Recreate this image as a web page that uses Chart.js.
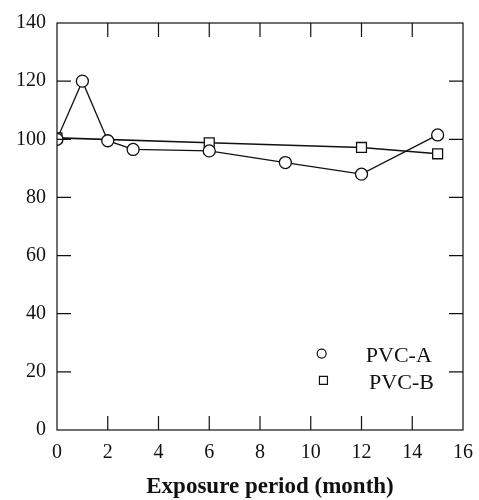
<!DOCTYPE html>
<html>
<head>
<meta charset="utf-8">
<script src="https://cdn.jsdelivr.net/npm/chart.js@4/dist/chart.umd.min.js"></script>
<style>
  html, body { margin: 0; padding: 0; background: #fff; }
  #wrap { width: 479px; height: 500px; }
</style>
</head>
<body>
<div id="wrap"><canvas id="c" width="479" height="500"></canvas></div>
<script>
// data
const months_A = [0, 1, 2, 3, 6, 9, 12, 15];
const pvcA = [100, 120, 99.5, 96.5, 96, 92, 88, 101.5];
const months_B = [0, 6, 12, 15];
const pvcB = [100.5, 98.8, 97.2, 95];
const xTicks = [0, 2, 4, 6, 8, 10, 12, 14, 16];
const yTicks = [0, 20, 40, 60, 80, 100, 120, 140];
const xTitle = "Exposure period (month)";

const FONT = "'Liberation Serif', 'Times New Roman', serif";

// inward tick marks on all four sides + frame, x title and the inset legend
const frameTicks = {
  id: "frameTicks",
  afterDraw(chart) {
    const { ctx, chartArea: a, scales } = chart;
    const len = 14;
    ctx.save();
    ctx.strokeStyle = "#111";
    ctx.lineWidth = 1.2;
    ctx.strokeRect(a.left, a.top, a.right - a.left, a.bottom - a.top);
    ctx.beginPath();
    xTicks.slice(1, -1).forEach((v) => {
      const px = scales.x.getPixelForValue(v);
      ctx.moveTo(px, a.bottom); ctx.lineTo(px, a.bottom - len);
      ctx.moveTo(px, a.top); ctx.lineTo(px, a.top + len);
    });
    yTicks.slice(1, -1).forEach((v) => {
      const py = scales.y.getPixelForValue(v);
      ctx.moveTo(a.left, py); ctx.lineTo(a.left + len, py);
      ctx.moveTo(a.right, py); ctx.lineTo(a.right - len, py);
    });
    ctx.stroke();

    // axis title, sitting a little right of centre as in the figure
    ctx.fillStyle = "#111";
    ctx.font = "bold 23px " + FONT;
    ctx.textAlign = "center";
    ctx.textBaseline = "middle";
    ctx.fillText(xTitle, (a.left + a.right) / 2 + 10, a.bottom + 57);

    // legend (marker x, marker y, text x in data units)
    const spots = [
      { mx: 10.43, my: 26.3, tx: 12.17 },
      { mx: 10.5, my: 17.1, tx: 12.3 },
    ];
    ctx.font = "22px " + FONT;
    ctx.textAlign = "left";
    chart.data.datasets.forEach((ds, i) => {
      const s = spots[i];
      const mx = scales.x.getPixelForValue(s.mx);
      const my = scales.y.getPixelForValue(s.my);
      ctx.beginPath();
      if (ds.pointStyle === "rect") {
        ctx.rect(mx - 4, my - 4, 8, 8);
      } else {
        ctx.arc(mx, my, 4.5, 0, Math.PI * 2);
      }
      ctx.fillStyle = "#fff";
      ctx.fill();
      ctx.stroke();
      ctx.fillStyle = "#111";
      ctx.fillText(ds.label, scales.x.getPixelForValue(s.tx), my + 3);
    });
    ctx.restore();
  },
};

new Chart(document.getElementById("c"), {
  type: "line",
  data: {
    datasets: [
      {
        label: "PVC-A",
        data: months_A.map((m, i) => ({ x: m, y: pvcA[i] })),
        borderColor: "#111",
        borderWidth: 1.3,
        pointStyle: "circle",
        pointRadius: 6,
        pointBackgroundColor: "#fff",
        pointBorderColor: "#111",
        pointBorderWidth: 1.3,
        tension: 0,
      },
      {
        label: "PVC-B",
        data: months_B.map((m, i) => ({ x: m, y: pvcB[i] })),
        borderColor: "#111",
        borderWidth: 1.6,
        pointStyle: "rect",
        pointRadius: 7,
        pointBackgroundColor: "#fff",
        pointBorderColor: "#111",
        pointBorderWidth: 1.3,
        tension: 0,
      },
    ],
  },
  options: {
    responsive: false,
    animation: false,
    layout: { padding: { top: 20, right: 0, left: 0, bottom: 0 } },
    plugins: {
      legend: { display: false },
      tooltip: { enabled: false },
    },
    scales: {
      x: {
        type: "linear",
        min: 0,
        max: 16,
        afterBuildTicks: (s) => { s.ticks = xTicks.map((v) => ({ value: v })); },
        afterFit: (s) => {
          s.height = 70;
          s.paddingRight = 16;
          s.paddingLeft = 0;
        },
        grid: { display: false, drawTicks: false },
        border: { display: false },
        ticks: { color: "#111", font: { family: FONT, size: 20 }, padding: 11 },
      },
      y: {
        min: 0,
        max: 140,
        afterBuildTicks: (s) => { s.ticks = yTicks.map((v) => ({ value: v })); },
        afterFit: (s) => { s.width = 57; },
        grid: { display: false, drawTicks: false },
        border: { display: false },
        ticks: { color: "#111", font: { family: FONT, size: 20 }, padding: 11 },
      },
    },
  },
  plugins: [frameTicks],
});
</script>
</body>
</html>
